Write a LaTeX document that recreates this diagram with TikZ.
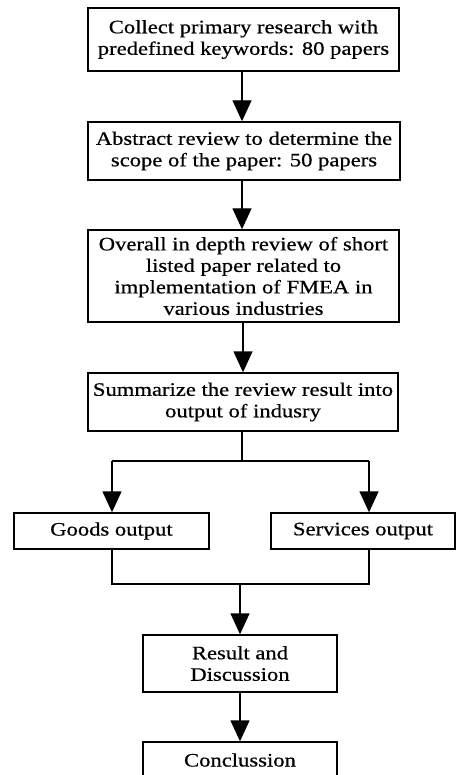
\documentclass[tikz,border=0pt]{standalone}
\usepackage{fontspec}
\setmainfont{Liberation Serif}[FakeStretch=1.19,FakeBold=0.6]
\usetikzlibrary{arrows.meta}
\begin{document}
\begin{tikzpicture}[x=1pt,y=-1pt,
  box/.style={draw,line width=1.4pt,rectangle,inner sep=0pt,align=center,
    font=\fontsize{19}{21.5}\selectfont},
  arr/.style={line width=1.4pt,-{Triangle[length=21pt,width=19pt]}},
  ln/.style={line width=1.4pt}]
\clip (0,0) rectangle (456,775);
\fill[white] (0,0) rectangle (456,775);
\node[box,minimum width=311pt,minimum height=63pt] (b1) at (243.5,39.5)
  {Collect primary research with\\predefined keywords: 80 papers};
\node[box,minimum width=312pt,minimum height=58pt] (b2) at (244,151)
  {Abstract review to determine the\\scope of the paper: 50 papers};
\node[box,minimum width=311pt,minimum height=92pt] (b3) at (243.5,276)
  {Overall in depth review of short\\listed paper related to\\implementation of FMEA in\\various industries};
\node[box,minimum width=310pt,minimum height=58pt] (b4) at (243,402)
  {Summarize the review result into\\output of indusry};
\node[box,minimum width=195pt,minimum height=36pt] (g) at (111.5,531)
  {Goods output};
\node[box,minimum width=184pt,minimum height=36pt] (s) at (363,531)
  {Services output};
\node[box,minimum width=194pt,minimum height=57pt] (r) at (240,663.5)
  {Result and\\Discussion};
\node[box,minimum width=194pt,minimum height=36pt] (c) at (240,760)
  {Conclussion};
\coordinate (sp) at (242,461);
\coordinate (gl) at (112,461);
\coordinate (sr) at (369,461);
\coordinate (mp) at (240,584);
\coordinate (ml) at (112,584);
\coordinate (mr) at (369,584);
\draw[arr] (b1.south -| 242,0) -- (b2.north -| 242,0);
\draw[arr] (b2.south -| 242,0) -- (b3.north -| 242,0);
\draw[arr] (b3.south -| 243,0) -- (b4.north -| 243,0);
\draw[ln] (b4.south -| sp) -- (sp);
\draw[ln] (gl) -- (sr);
\draw[arr] (gl) -- (gl |- g.north);
\draw[arr] (sr) -- (sr |- s.north);
\draw[ln] (g.south -| ml) -- (ml) -- (mr) -- (s.south -| mr);
\draw[arr] (mp) -- (r.north);
\draw[arr] (r.south) -- (c.north);
\end{tikzpicture}
\end{document}
